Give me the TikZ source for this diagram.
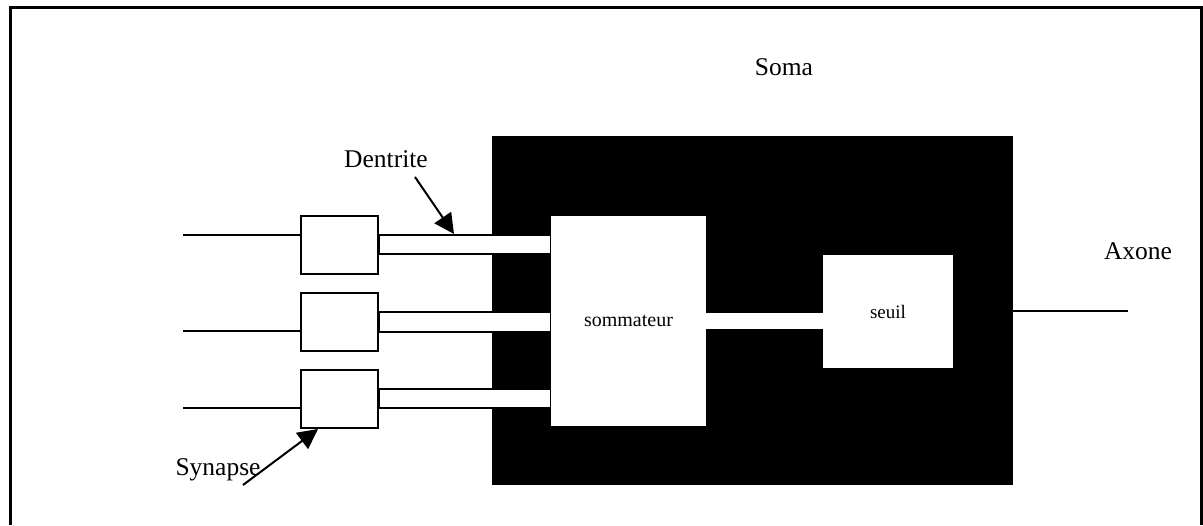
\documentclass[tikz,border=0pt]{standalone}
\usepackage{fontspec}
\setmainfont{Liberation Serif}
\usetikzlibrary{arrows.meta}
\begin{document}
\begin{tikzpicture}[x=0.5pt,y=-0.5pt,
  thin line/.style={line width=1pt},
  label text/.style={font=\fontsize{12.75}{15}\selectfont, inner sep=0pt, anchor=base},
  synbox/.style={draw, thin line, fill=white, minimum width=38.5pt, minimum height=29pt, inner sep=0pt},
  bar/.style={draw, thin line, fill=white},
  pointer/.style={thin line, -{Triangle[length=10pt,width=10pt]}}]
\useasboundingbox (0,0) rectangle (1203,525);
% outer frame
\draw[line width=1.5pt] (10,525) -- (10,7) -- (1201,7) -- (1201,525);
% soma body
\node[fill=black, minimum width=260.5pt, minimum height=174.5pt, inner sep=0pt] (soma) at (752.5,310.5) {};
% synapses
\node[synbox] (syn1) at (339.5,245) {};
\node[synbox] (syn2) at (339.5,322) {};
\node[synbox] (syn3) at (339.5,398.5) {};
% dendrites to the summing unit
\draw[bar] (syn1.east |- 0,235) rectangle (551,254);
\draw[bar] (syn2.east |- 0,312) rectangle (551,332);
\draw[bar] (syn3.east |- 0,389) rectangle (551,408);
% summing unit and threshold
\node[fill=white, minimum width=77.5pt, minimum height=105pt, inner sep=0pt,
      font=\fontsize{10}{12}\selectfont] (som) at (628.5,321) {sommateur};
\node[fill=white, minimum width=65pt, minimum height=56.5pt, inner sep=0pt,
      font=\fontsize{9.5}{11}\selectfont] (seuil) at (888,311.5) {seuil};
\fill[white] (som.east |- 0,313) rectangle (seuil.west |- 0,329);
% inputs
\coordinate (in1) at (183,235);
\coordinate (in2) at (183,331);
\coordinate (in3) at (183,408);
\draw[thin line] (in1) -- (in1 -| syn1.west);
\draw[thin line] (in2) -- (in2 -| syn2.west);
\draw[thin line] (in3) -- (in3 -| syn3.west);
% axon
\coordinate (ax) at (1128,311);
\draw[thin line] (ax -| soma.east) -- (ax);
% labels
\node[label text] (lsoma) at (784,75) {Soma};
\node[label text] (laxone) at (1138,259) {Axone};
\node[label text] (ldent) at (386,167) {Dentrite};
\node[label text] (lsyn) at (218,475) {Synapse};
% pointers
\coordinate (dstart) at (415,177);
\coordinate (dtip) at (454,234);
\draw[pointer] (dstart) -- (dtip);
\coordinate (sstart) at (243,485);
\coordinate (stip) at (318,429);
\draw[pointer] (sstart) -- (stip);
\end{tikzpicture}
\end{document}
